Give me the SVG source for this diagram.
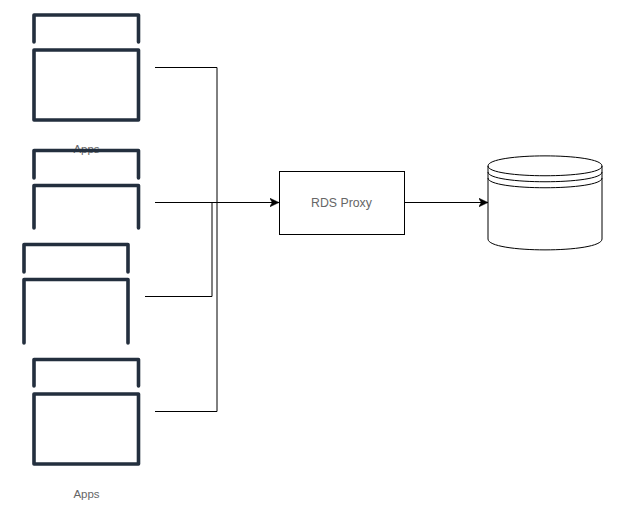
<svg xmlns="http://www.w3.org/2000/svg" width="619" height="510" viewBox="0 0 619 510">
<style>
.icon{fill:none;stroke:#232f3e;stroke-width:3.6;stroke-linejoin:round;stroke-linecap:round}
.wire{fill:none;stroke:#000;stroke-width:1}
.shape{fill:#fff;stroke:#000;stroke-width:1}
text{font-family:"Liberation Sans",Arial,sans-serif;fill:#666;text-anchor:middle}
</style>
<defs>
<marker id="arrow" markerUnits="userSpaceOnUse" markerWidth="11" markerHeight="11" refX="9.500" refY="5" orient="auto">
<path d="M0 0.500L9.500 5L0 9.500L2.800 5Z" fill="#000" stroke="#000" stroke-width="0.500"/>
</marker>
</defs>
<rect width="619" height="510" fill="#fff"/>
<g id="connectors">
<path class="wire" d="M155 67.500H217V202.500"/>
<path class="wire" d="M155 202.500H279" marker-end="url(#arrow)"/>
<path class="wire" d="M145 296.500H212V202.500"/>
<path class="wire" d="M155 411.500H217V202.500"/>
<path class="wire" d="M405 202.500H488" marker-end="url(#arrow)"/>
</g>
<g id="app-1">
<path class="icon" d="M34 42V15H138.500V42"/>
<rect class="icon" x="34" y="50" width="104.500" height="70"/>
<text x="86.500" y="153" font-size="11.500">Apps</text>
</g>
<g id="app-2">
<path class="icon" d="M34 178V150.500H138.500V178"/>
<path class="icon" d="M34 228V185.500H138.500V228"/>
</g>
<g id="app-3">
<path class="icon" d="M24 272V244.500H128V272"/>
<path class="icon" d="M24 343V279.500H128V343"/>
</g>
<g id="app-4">
<path class="icon" d="M34 386V359.500H138.500V386"/>
<rect class="icon" x="34" y="394" width="104.500" height="70"/>
<text x="86.500" y="498" font-size="11.500">Apps</text>
</g>
<g id="rds-proxy">
<rect class="shape" x="279.500" y="171.500" width="125" height="63"/>
<text x="341.500" y="206.500" font-size="12.300">RDS Proxy</text>
</g>
<g id="database">
<path class="shape" d="M488 166C488 152.500 602 152.500 602 166V239C602 253.500 488 253.500 488 239Z"/>
<path class="wire" d="M488 166C488 179 602 179 602 166M488 172C488 185 602 185 602 172M488 178C488 191 602 191 602 178"/>
</g>
</svg>
